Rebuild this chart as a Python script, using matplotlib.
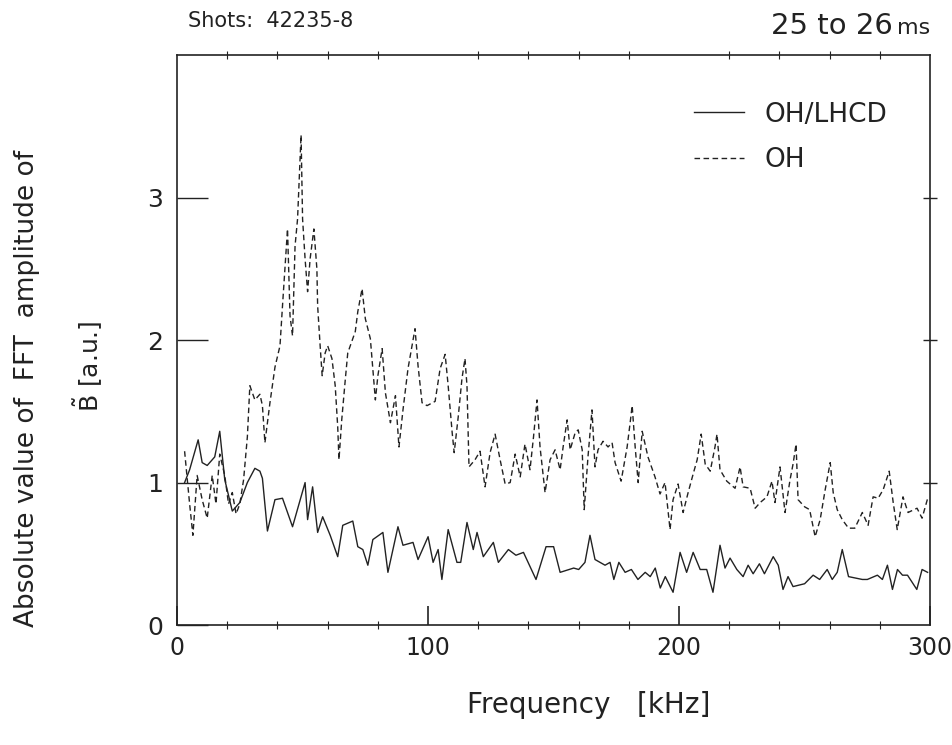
import numpy as np
import matplotlib
matplotlib.use("Agg")
import matplotlib.pyplot as plt
from matplotlib.ticker import MultipleLocator

# OH/LHCD (solid)
freq_lhcd = [3, 5, 8.4, 10, 12, 15, 17, 19, 22, 25, 28, 31, 33, 34, 36, 39, 42, 46,
             51, 52, 54, 56, 58, 61, 64, 66, 70, 72, 74, 76, 78, 82, 84, 88, 90, 94,
             96, 100, 102, 104, 105.5, 108, 111.5, 113, 115.5, 118, 119.5, 122, 126,
             128, 132, 135, 138, 143, 147, 150, 152.6, 158, 160, 162.5, 164.5, 166.5,
             170.5, 172.5, 174, 176, 178.5, 181, 183.6, 186.5, 188.5, 190.5, 192.5,
             194.5, 197.6, 200.4, 203, 205.6, 208.4, 211, 213.5, 216.3, 218.3, 220.3,
             223, 225.5, 227.5, 229.5, 232, 234, 237.5, 239.5, 241.4, 243.4, 245.4,
             250, 253.4, 256, 259, 261, 263, 265, 267.5, 273, 275, 279, 281, 283, 285,
             287, 289, 291, 294.7, 296.8, 299]
amp_lhcd = [1.00, 1.09, 1.30, 1.14, 1.12, 1.18, 1.36, 1.02, 0.80, 0.86, 1.00, 1.10, 1.08,
            1.03, 0.66, 0.88, 0.89, 0.69, 1.00, 0.74, 0.97, 0.65, 0.76, 0.63, 0.48, 0.70,
            0.73, 0.55, 0.53, 0.42, 0.60, 0.65, 0.37, 0.69, 0.56, 0.58, 0.46, 0.62, 0.44,
            0.53, 0.32, 0.67, 0.44, 0.44, 0.72, 0.53, 0.65, 0.48, 0.58, 0.44, 0.53, 0.49,
            0.51, 0.32, 0.55, 0.55, 0.37, 0.40, 0.39, 0.44, 0.63, 0.46, 0.42, 0.44, 0.32,
            0.44, 0.37, 0.39, 0.32, 0.37, 0.34, 0.40, 0.26, 0.34, 0.23, 0.51, 0.37, 0.51,
            0.39, 0.39, 0.23, 0.56, 0.40, 0.47, 0.39, 0.34, 0.42, 0.36, 0.43, 0.36, 0.48,
            0.42, 0.25, 0.34, 0.27, 0.29, 0.35, 0.32, 0.39, 0.32, 0.37, 0.53, 0.34, 0.32,
            0.32, 0.35, 0.32, 0.42, 0.25, 0.39, 0.35, 0.35, 0.25, 0.39, 0.37]

# OH (dashed)
freq_oh = [3, 5, 6.3, 8, 10, 12, 14, 15.5, 17, 19, 20.5, 22, 23.5, 25, 26.5, 28, 29, 31,
           33, 34, 35, 37, 39, 41, 42, 44, 45, 46, 47, 48, 49.4, 50, 51, 52, 53, 54.5,
           55.7, 56, 57, 57.8, 59, 60, 61.7, 63, 64, 64.5, 65.6, 67, 68, 71, 72, 73.7,
           75, 77, 79, 80, 81.7, 83, 85, 87, 88.4, 90, 92, 94.8, 96, 97.6, 99.6, 102.8,
           104.8, 106.8, 108, 109.6, 110.4, 112, 113.5, 114.7, 115.5, 116.3, 118.7,
           120.7, 122.7, 124.7, 126.7, 128.7, 130.7, 132.7, 134.7, 136.7, 138.6, 140.6,
           142, 143.4, 144.6, 146.6, 148.6, 150.6, 152.6, 153.8, 155.4, 156.6, 158.6,
           159.8, 161.4, 162.2, 163.7, 165.3, 166.5, 167.7, 169.7, 171.7, 173.3, 174.5,
           176.9, 179.3, 180.5, 181.3, 182.5, 183.7, 185.3, 187.6, 190.4, 192.4, 194.4,
           196.4, 197.6, 199.6, 201.6, 203.6, 205.6, 207.2, 208.8, 210.4, 212.4, 214.3,
           215.1, 216.3, 219, 222.3, 224.3, 225.5, 228.3, 230.3, 232.3, 235, 237, 238.2,
           240.2, 242.2, 244.2, 245.4, 246.6, 247.4, 250, 252, 254.2, 256.2, 258.2,
           260.2, 261.4, 263, 265, 267.5, 270, 273, 275.3, 277.3, 279.3, 281.3, 283.7,
           285.3, 286.9, 289.2, 291.2, 294.8, 296.8, 299.2]
amp_oh = [1.22, 0.85, 0.63, 1.05, 0.88, 0.75, 1.05, 0.85, 1.20, 1.05, 0.85, 0.93, 0.78,
          0.85, 1.02, 1.32, 1.68, 1.58, 1.62, 1.54, 1.28, 1.56, 1.81, 1.96, 2.24, 2.78,
          2.17, 2.03, 2.66, 2.85, 3.44, 2.85, 2.57, 2.34, 2.57, 2.78, 2.50, 2.24, 1.96,
          1.75, 1.91, 1.96, 1.87, 1.68, 1.39, 1.16, 1.44, 1.72, 1.91, 2.06, 2.20, 2.36,
          2.15, 2.01, 1.58, 1.75, 1.94, 1.63, 1.42, 1.61, 1.25, 1.51, 1.80, 2.08, 1.82,
          1.56, 1.54, 1.57, 1.80, 1.90, 1.68, 1.35, 1.21, 1.46, 1.73, 1.87, 1.68, 1.11,
          1.16, 1.22, 0.97, 1.21, 1.34, 1.16, 0.99, 1.00, 1.20, 1.04, 1.27, 1.09, 1.32,
          1.58, 1.25, 0.93, 1.16, 1.23, 1.09, 1.25, 1.44, 1.23, 1.35, 1.37, 1.23, 0.81,
          1.18, 1.51, 1.11, 1.23, 1.29, 1.25, 1.28, 1.14, 1.01, 1.25, 1.42, 1.54, 1.25,
          1.00, 1.36, 1.18, 1.04, 0.92, 1.00, 0.67, 0.88, 0.99, 0.79, 0.93, 1.06, 1.16,
          1.34, 1.13, 1.08, 1.25, 1.34, 1.09, 1.01, 0.96, 1.11, 0.97, 0.96, 0.82, 0.86,
          0.90, 1.01, 0.86, 1.11, 0.79, 1.02, 1.13, 1.27, 0.88, 0.83, 0.81, 0.62, 0.74,
          0.95, 1.14, 0.93, 0.81, 0.74, 0.68, 0.68, 0.79, 0.70, 0.90, 0.89, 0.95, 1.08,
          0.86, 0.67, 0.90, 0.79, 0.82, 0.75, 0.90]

ink = "#222222"
plt.rcParams['font.family'] = ['DejaVu Sans']

fig = plt.figure(figsize=(9.52, 7.45), dpi=100)
ax = fig.add_axes([0.186, 0.161, 0.791, 0.765])

ax.plot(freq_lhcd, amp_lhcd, color=ink, lw=1.0, label="OH/LHCD")
ax.plot(freq_oh, amp_oh, color=ink, lw=1.0, linestyle=(0, (4, 2.5)), label="OH")

ax.set_xlim(0, 300)
ax.set_ylim(0, 4)

ax.xaxis.set_major_locator(MultipleLocator(100))
ax.xaxis.set_minor_locator(MultipleLocator(20))
ax.set_yticks([0, 1, 2, 3])
ax.tick_params(axis='x', which='major', direction='in', length=14, width=1.2,
               top=False, labelsize=17, pad=8, colors=ink)
ax.tick_params(axis='x', which='minor', direction='inout', length=6, width=0.8,
               top=True, colors=ink)
ax.tick_params(axis='y', which='major', direction='in', length=22, width=1.0,
               right=False, labelsize=18, pad=10, colors=ink)

# short crossing ticks on the right frame
ax_r = ax.secondary_yaxis('right')
ax_r.set_yticks([1, 2, 3])
ax_r.tick_params(direction='inout', length=10, width=1.0, labelright=False, colors=ink)
ax_r.spines['right'].set_visible(False)

for s in ax.spines.values():
    s.set_linewidth(1.2)
    s.set_color(ink)

ax.set_xlabel("Frequency   [kHz]", fontsize=20, color=ink)
ax.xaxis.set_label_coords(0.546, -0.14)
ax.xaxis.label.set_va('center')
fig.text(0.028, 0.479, "Absolute value of  FFT  amplitude of", rotation=90,
         ha='center', va='center', fontsize=19, color=ink)
fig.text(0.092, 0.509, r"$\tilde{\mathrm{B}}$ [a.u.]", rotation=90,
         ha='center', va='center', fontsize=18, color=ink)

fig.text(0.197, 0.972, "Shots:  42235-8", fontsize=15, ha='left', va='center',
         color=ink)
fig.text(0.938, 0.965, "25 to 26", fontsize=21, ha='right', va='center', color=ink)
fig.text(0.942, 0.962, "ms", fontsize=16, ha='left', va='center', color=ink)

leg = ax.legend(loc='upper right', bbox_to_anchor=(0.975, 0.96), frameon=False,
                fontsize=19, handlelength=1.9, handletextpad=0.8, labelspacing=0.75)
for t in leg.get_texts():
    t.set_color(ink)

fig.savefig("out.png", dpi=100)
